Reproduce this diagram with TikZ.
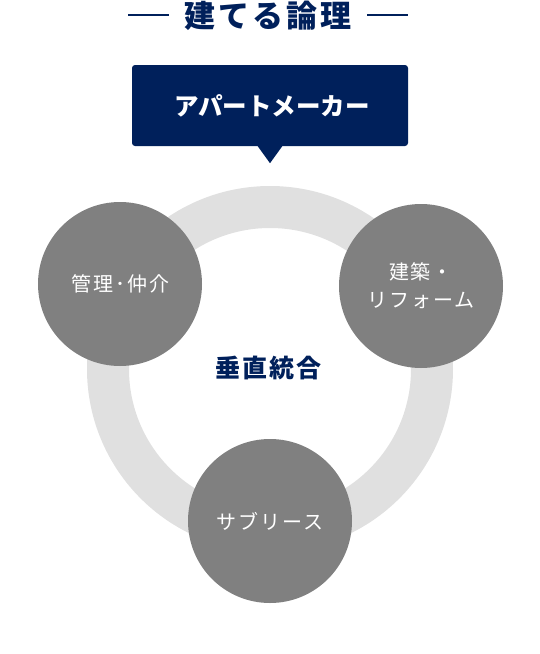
\documentclass[tikz,border=0pt]{standalone}
\usepackage{fontspec}
\setmainfont{Noto Sans CJK JP}
\newfontfamily\titlefont{Noto Sans CJK JP}[LetterSpace=10]
\newfontfamily\centerfont{Noto Sans CJK JP}[LetterSpace=8]
\newfontfamily\rolefont{Noto Sans CJK JP}[LetterSpace=10]
\definecolor{navy}{HTML}{00205B}
\definecolor{ringgray}{HTML}{E0E0E0}
\definecolor{circgray}{HTML}{808080}
\begin{document}
\begin{tikzpicture}[x=1pt,y=-1pt,
  role/.style={circle,fill=circgray,minimum size=164pt,inner sep=0pt,
    text=white,align=center,font=\rolefont\fontsize{20}{28}\selectfont},
  rule/.style={navy,line width=1.5pt}]
  \useasboundingbox (0,0) rectangle (540,654);
  \draw[ringgray,line width=42pt] (270,369) circle[radius=162pt];
  \node (title) [text=navy,font=\titlefont\bfseries\fontsize{31}{34}\selectfont] at (268,16) {建てる論理};
  \draw[rule] (128,15) -- (169,15);
  \draw[rule] (367,15) -- (408,15);
  \node (maker) [fill=navy,rounded corners=3pt,minimum width=276pt,minimum height=81pt,
    text=white,font=\bfseries\fontsize{24.5}{28}\selectfont] at (270,105.5) {\hspace*{4pt}アパートメーカー};
  \fill[navy] ([xshift=-13pt,yshift=1pt]maker.south) -- ([yshift=-17pt]maker.south)
    -- ([xshift=13pt,yshift=1pt]maker.south) -- cycle;
  \node (kanri) [role] at (120,284) {管理･仲介};
  \node (kenchiku) [role] at (421,286) {建築・\\リフォーム};
  \node (sublease) [role] at (270,521) {サブリース};
  \node (vertical) [text=navy,font=\centerfont\bfseries\fontsize{25}{28}\selectfont] at (268,368) {垂直統合};
\end{tikzpicture}
\end{document}
